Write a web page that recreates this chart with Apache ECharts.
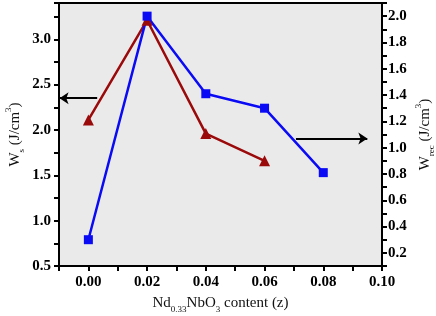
<!DOCTYPE html>
<html><head><meta charset="utf-8">
<script src="https://cdn.jsdelivr.net/npm/echarts@6/dist/echarts.min.js"></script>
<style>html,body{margin:0;padding:0;background:#fff}#c{width:436px;height:316px}</style>
</head><body><div id="c"></div>
<script>
const xContent = [0.00, 0.02, 0.04, 0.06, 0.08];
const wsValues = [2.11, 3.21, 1.96, 1.66];
const wrecValues = [0.30, 2.00, 1.41, 1.30, 0.81];
const leftArrow = [[0.003, 2.35], [-0.0098, 2.35]];
const rightArrow = [[0.0707, 1.07], [0.0950, 1.07]];

const FONT = '"Liberation Serif", "Times New Roman", serif';
const nameRich = {
  a: {fontFamily: FONT, fontSize: 15, color: '#111', lineHeight: 22},
  b: {fontFamily: FONT, fontSize: 9, color: '#111', lineHeight: 22, verticalAlign: 'bottom'},
  c: {fontFamily: FONT, fontSize: 9, color: '#111', lineHeight: 22, verticalAlign: 'top'}
};
const labelStyle = {fontFamily: FONT, fontWeight: 'bold', fontSize: 15, color: '#000'};
const axisLine = {show: true, onZero: false, lineStyle: {color: '#000', width: 2}};
const axisTick = {show: true, inside: false, length: 5, lineStyle: {color: '#000', width: 2}};

const chart = echarts.init(document.getElementById('c'), null, {renderer: 'canvas'});
chart.setOption({
  animation: false,
  backgroundColor: '#fff',
  grid: {left: 59, right: 54, top: 3, bottom: 50, containLabel: false, outerBoundsMode: 'none',
    show: true, backgroundColor: '#EAEAEA', borderColor: '#000', borderWidth: 2},
  xAxis: {
    type: 'value', min: -0.01, max: 0.10, interval: 0.01,
    axisLine, axisTick, splitLine: {show: false},
    axisLabel: Object.assign({margin: 9, formatter: v => {const k = Math.round(v * 100); return (k >= 0 && k % 2 === 0) ? v.toFixed(2) : '';}}, labelStyle),
    name: '{a|Nd}{b|0.33}{a|NbO}{b|3}{a| content (z)}', nameLocation: 'middle', nameGap: 26, nameMoveOverlap: false,
    nameTextStyle: {rich: nameRich}
  },
  yAxis: [{
    type: 'value', min: 0.5, max: 3.4, interval: 0.25, position: 'left',
    axisLine, axisTick, splitLine: {show: false},
    axisLabel: Object.assign({margin: 8, formatter: v => {const k = Math.round(v * 100); return (k % 50 === 0) ? v.toFixed(1) : '';}}, labelStyle),
    name: '{a|W}{b|s}{a| (J/cm}{c|3}{a|)}', nameLocation: 'middle', nameGap: 33, nameRotate: 90, nameMoveOverlap: false,
    nameTextStyle: {rich: nameRich}
  }, {
    type: 'value', min: 0.1, max: 2.1, interval: 0.1, position: 'right',
    axisLine, axisTick, splitLine: {show: false},
    axisLabel: Object.assign({margin: 6, formatter: v => {const k = Math.round(v * 10); return (k % 2 === 0) ? v.toFixed(1) : '';}}, labelStyle),
    name: '{a|W}{b|rec}{a| (J/cm}{c|3}{a|)}', nameLocation: 'middle', nameGap: 32, nameRotate: 90, nameMoveOverlap: false,
    nameTextStyle: {rich: nameRich}
  }],
  series: [{
    type: 'line', yAxisIndex: 0,
    data: wsValues.map((v, i) => [xContent[i], v]),
    symbol: 'triangle', symbolSize: 11,
    lineStyle: {color: '#9B0A0A', width: 2.5},
    itemStyle: {color: '#9B0A0A'},
    markLine: {silent: true, symbol: ['none', 'arrow'], symbolSize: 9, label: {show: false},
      lineStyle: {color: '#000', width: 2, type: 'solid'},
      data: [[{coord: leftArrow[0]}, {coord: leftArrow[1]}]]}
  }, {
    type: 'line', yAxisIndex: 1,
    data: wrecValues.map((v, i) => [xContent[i], v]),
    symbol: 'rect', symbolSize: 9,
    lineStyle: {color: '#0A0AF5', width: 2.5},
    itemStyle: {color: '#0A0AF5'},
    markLine: {silent: true, symbol: ['none', 'arrow'], symbolSize: 9, label: {show: false},
      lineStyle: {color: '#000', width: 2, type: 'solid'},
      data: [[{coord: rightArrow[0]}, {coord: rightArrow[1]}]]}
  }]
});
</script></body></html>
